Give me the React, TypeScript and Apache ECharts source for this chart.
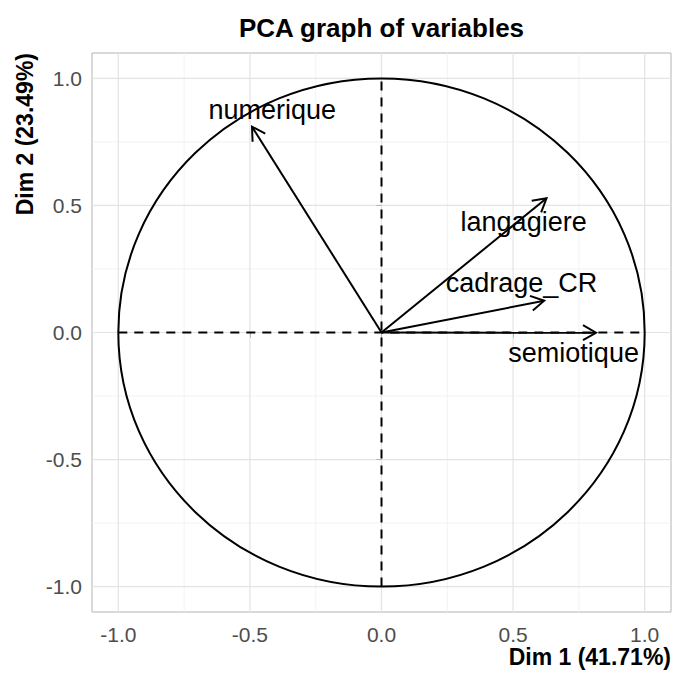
import React, { useEffect, useRef } from "react";
import * as echarts from "echarts";

const varNames = ["numerique", "langagiere", "cadrage_CR", "semiotique"];
const dim1 = [-0.492, 0.627, 0.618, 0.815];
const dim2 = [0.81, 0.528, 0.125, -0.001];
const labelX = [-0.415, 0.54, 0.532, 0.73];
const labelY = [0.876, 0.436, 0.196, -0.082];
const majorTicks = [-1, -0.5, 0, 0.5, 1];
const minorTicks = [-0.75, -0.25, 0.25, 0.75];
const refLines = [
  [-1, 0, 1, 0],
  [0, -1, 0, 1],
];
const titleText = "PCA graph of variables";
const xTitle = "Dim 1 (41.71%)";
const yTitle = "Dim 2 (23.49%)";

const FONT = "'Liberation Sans', Arial, Helvetica, sans-serif";
const LIM = 1.1;

export default function App() {
  const ref = useRef<HTMLDivElement>(null);
  useEffect(() => {
    if (!ref.current) return;
    const chart = echarts.init(ref.current, undefined, { renderer: "svg" });

    // [value, orientation (0 = vertical, 1 = horizontal), major flag]
    const gridData = [
      ...minorTicks.map((v) => [v, 0, 0]),
      ...minorTicks.map((v) => [v, 1, 0]),
      ...majorTicks.map((v) => [v, 0, 1]),
      ...majorTicks.map((v) => [v, 1, 1]),
    ];

    const axisCommon = {
      type: "value",
      min: -LIM,
      max: LIM,
      axisLine: { show: false },
      splitLine: { show: false },
      axisTick: {
        show: true,
        customValues: majorTicks,
        length: 5,
        lineStyle: { color: "#b3b3b3", width: 1 },
      },
      axisLabel: {
        customValues: majorTicks,
        formatter: (v: number) => v.toFixed(1),
        color: "#4d4d4d",
        fontSize: 21,
        fontFamily: FONT,
      },
    };

    chart.setOption({
      animation: false,
      backgroundColor: "#ffffff",
      grid: {
        left: 92,
        top: 53,
        width: 579,
        height: 559,
        show: true,
        borderColor: "#b3b3b3",
        borderWidth: 1,
        backgroundColor: "transparent",
      },
      xAxis: { ...axisCommon, axisLabel: { ...axisCommon.axisLabel, margin: 12 } },
      yAxis: { ...axisCommon, axisLabel: { ...axisCommon.axisLabel, margin: 10 } },
      graphic: [
        {
          type: "text",
          x: 381.5,
          y: 28,
          style: {
            text: titleText,
            align: "center",
            verticalAlign: "middle",
            fontSize: 26,
            fontWeight: "bold",
            fontFamily: FONT,
            fill: "#000",
          },
        },
        {
          type: "text",
          x: 671,
          y: 657,
          style: {
            text: xTitle,
            align: "right",
            verticalAlign: "middle",
            fontSize: 23,
            fontWeight: "bold",
            fontFamily: FONT,
            fill: "#000",
          },
        },
        {
          type: "text",
          x: 25,
          y: 53,
          rotation: Math.PI / 2,
          style: {
            text: yTitle,
            align: "right",
            verticalAlign: "middle",
            fontSize: 23,
            fontWeight: "bold",
            fontFamily: FONT,
            fill: "#000",
          },
        },
      ],
      series: [
        {
          type: "custom",
          z: 0,
          silent: true,
          data: gridData,
          renderItem: (params: any, api: any) => {
            const v = api.value(0);
            const horiz = api.value(1) === 1;
            const major = api.value(2) === 1;
            const a = horiz ? api.coord([-LIM, v]) : api.coord([v, -LIM]);
            const b = horiz ? api.coord([LIM, v]) : api.coord([v, LIM]);
            return {
              type: "line",
              shape: { x1: a[0], y1: a[1], x2: b[0], y2: b[1] },
              style: { stroke: major ? "#e3e3e3" : "#efefef", lineWidth: major ? 1.2 : 0.8 },
            };
          },
        },
        {
          type: "custom",
          z: 2,
          silent: true,
          data: [[0, 0]],
          renderItem: (params: any, api: any) => {
            const c = api.coord([0, 0]);
            const e = api.coord([1, 1]);
            return {
              type: "ellipse",
              shape: { cx: c[0], cy: c[1], rx: e[0] - c[0], ry: c[1] - e[1] },
              style: { stroke: "#000", fill: "none", lineWidth: 2 },
            };
          },
        },
        {
          type: "custom",
          z: 3,
          silent: true,
          data: refLines,
          renderItem: (params: any, api: any) => {
            const a = api.coord([api.value(0), api.value(1)]);
            const b = api.coord([api.value(2), api.value(3)]);
            return {
              type: "line",
              shape: { x1: a[0], y1: a[1], x2: b[0], y2: b[1] },
              style: { stroke: "#000", lineWidth: 2, lineDash: [9, 7] },
            };
          },
        },
        {
          type: "custom",
          z: 4,
          silent: true,
          data: varNames.map((n, i) => [dim1[i], dim2[i], labelX[i], labelY[i]]),
          renderItem: (params: any, api: any) => {
            const x = api.value(0);
            const y = api.value(1);
            const o = api.coord([0, 0]);
            const t = api.coord([x, y]);
            const ang = Math.atan2(t[1] - o[1], t[0] - o[0]);
            const L = 15;
            const a = Math.PI / 6;
            const p1 = [t[0] - L * Math.cos(ang - a), t[1] - L * Math.sin(ang - a)];
            const p2 = [t[0] - L * Math.cos(ang + a), t[1] - L * Math.sin(ang + a)];
            const lp = api.coord([api.value(2), api.value(3)]);
            return {
              type: "group",
              children: [
                {
                  type: "line",
                  shape: { x1: o[0], y1: o[1], x2: t[0], y2: t[1] },
                  style: { stroke: "#000", lineWidth: 2 },
                },
                {
                  type: "polyline",
                  shape: { points: [p1, t, p2] },
                  style: { stroke: "#000", fill: "none", lineWidth: 2 },
                },
                {
                  type: "text",
                  x: lp[0],
                  y: lp[1],
                  style: {
                    text: varNames[params.dataIndex],
                    align: "center",
                    verticalAlign: "middle",
                    fontSize: 27,
                    fontFamily: FONT,
                    fill: "#000",
                  },
                },
              ],
            };
          },
        },
      ],
    });
    return () => chart.dispose();
  }, []);
  return (
    <div
      ref={ref}
      style={{ position: "fixed", left: 0, top: 0, width: 673, height: 673, background: "#fff" }}
    />
  );
}
